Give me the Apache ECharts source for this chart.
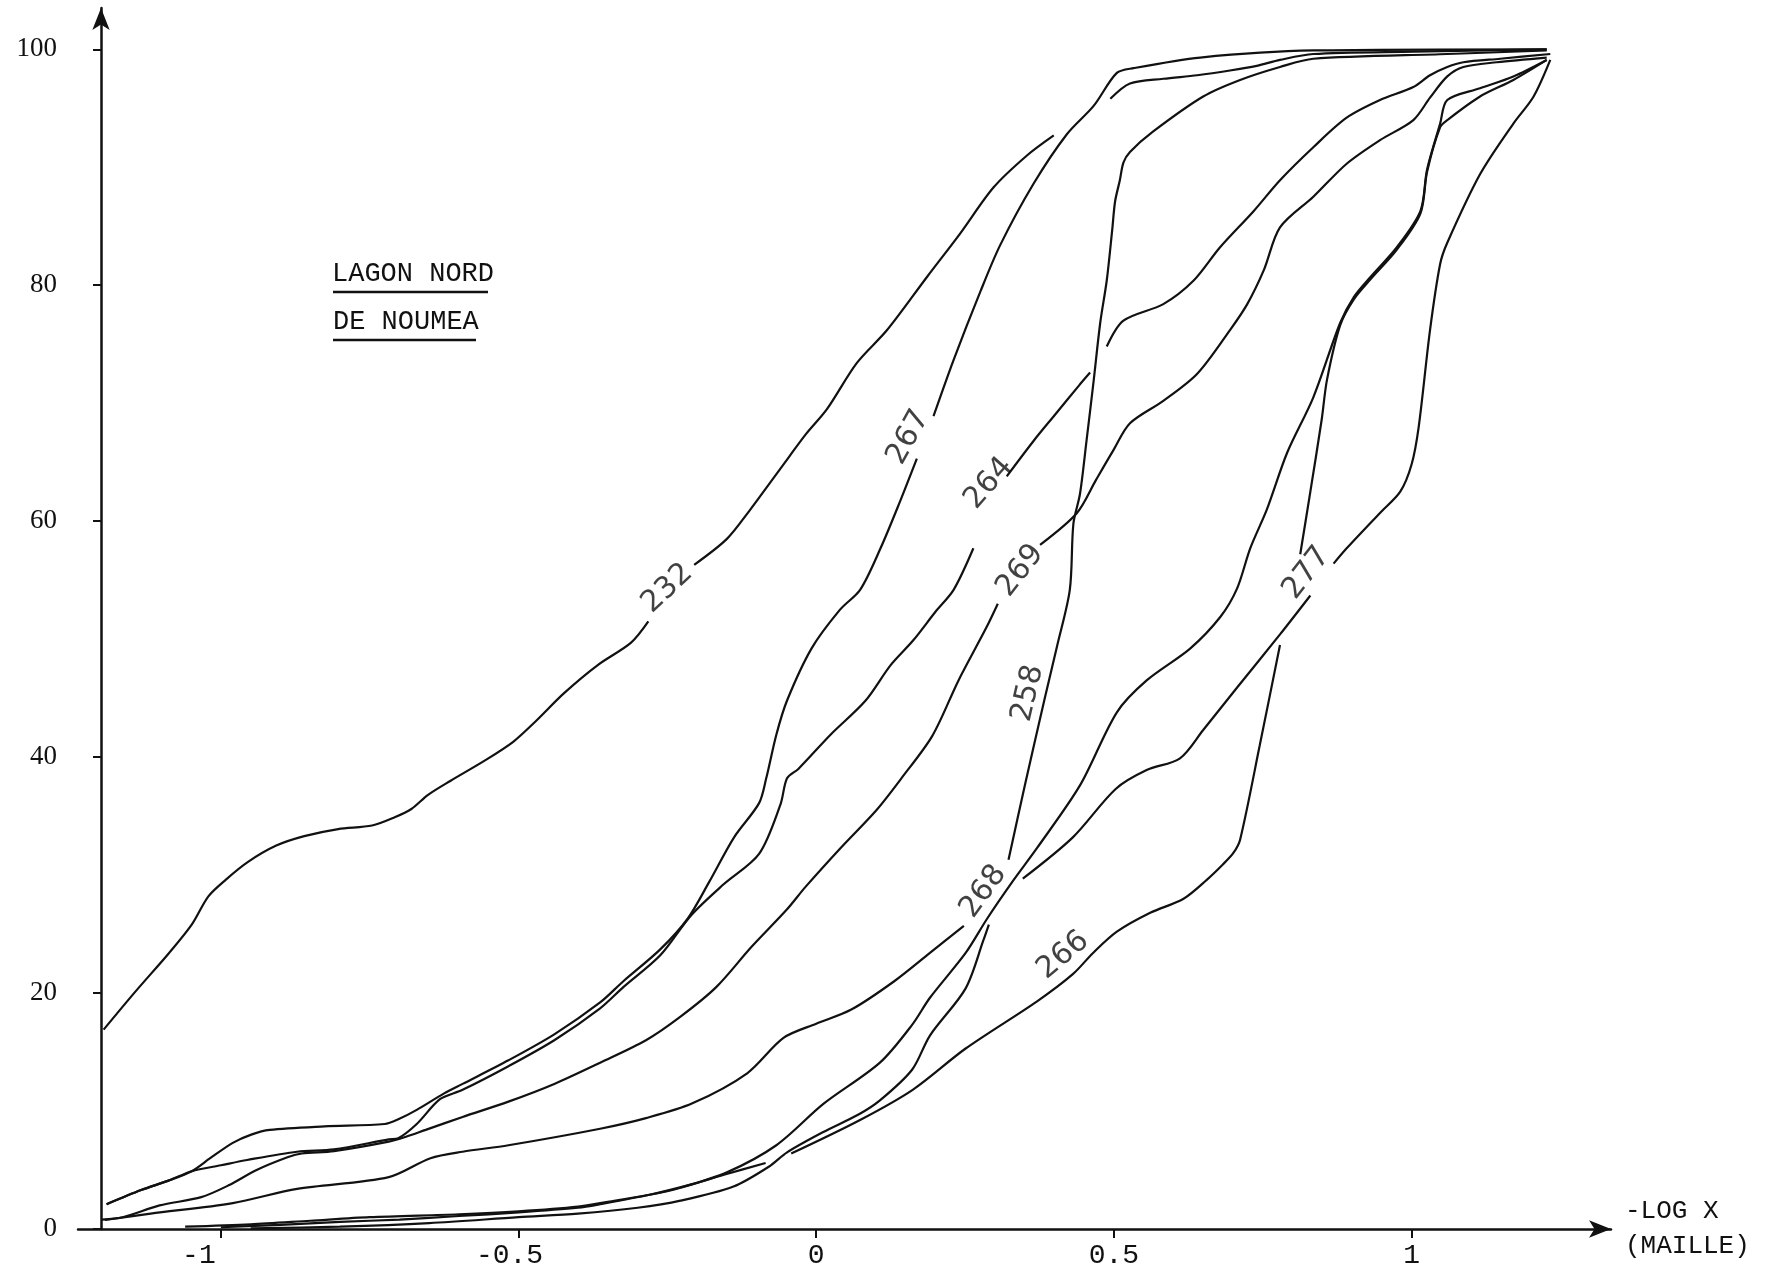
<!DOCTYPE html>
<html>
<head>
<meta charset="utf-8">
<script src="https://cdn.jsdelivr.net/npm/echarts@6/dist/echarts.min.js"></script>
<style>
html,body{margin:0;padding:0;background:#fff;}
#chart{width:1768px;height:1276px;}
</style>
</head>
<body>
<div id="chart"></div>
<script>
// ---- data (x = -log X, y = cumulative %) ; GAP = pen lift in the original drawing
const GAP = '-';
const xTickValues = [-1, -0.5, 0, 0.5, 1];
const xTickLabels = ['-1', '-0.5', '0', '0.5', '1'];
const yTickValues = [0, 20, 40, 60, 80, 100];
const yTickLabels = ['0', '20', '40', '60', '80', '100'];

const s232 = [[-1.197,16.9],[-1.144,20.1],[-1.087,23.4],[-1.049,25.8],[-1.021,28.2],[-0.992,29.6],[-0.955,31.1],[-0.907,32.5],[-0.86,33.3],[-0.803,33.9],[-0.746,34.2],[-0.708,34.9],[-0.68,35.6],[-0.652,36.8],[-0.614,38.0],[-0.557,39.7],[-0.509,41.3],[-0.472,43.0],[-0.424,45.4],[-0.367,47.8],[-0.311,49.7],[-0.282,51.5],GAP,[-0.205,56.3],[-0.15,58.5],[-0.112,60.9],[-0.074,63.5],[-0.045,65.5],[-0.017,67.4],[0.018,69.5],[0.068,73.4],[0.119,76.2],[0.186,80.7],[0.242,84.4],[0.298,88.3],[0.354,91.0],[0.399,92.7],GAP,[0.494,95.8],[0.527,97.1],[0.583,97.5],[0.64,97.8],[0.695,98.2],[0.74,98.6],[0.779,99.1],[0.835,99.6],[1.003,99.8],[1.227,100]];

const s267 = [[-1.192,2.1],[-1.134,3.3],[-1.088,4.1],[-1.049,4.9],[-1.018,6.0],[-0.98,7.3],[-0.949,8.0],[-0.918,8.4],[-0.826,8.7],[-0.725,8.9],[-0.702,9.3],[-0.671,10.1],[-0.625,11.5],[-0.594,12.3],[-0.517,14.3],[-0.44,16.5],[-0.363,19.2],[-0.324,21.0],[-0.262,23.7],[-0.216,26.3],[-0.18,29.4],[-0.138,33.2],[-0.096,36.1],[-0.084,38.2],[-0.067,41.9],[-0.049,44.8],[-0.008,49.2],[0.04,52.5],[0.074,54.2],[0.108,57.7],[0.141,61.7],[0.169,65.3],GAP,[0.197,68.9],[0.231,73.7],[0.276,79.5],[0.309,83.4],[0.365,88.6],[0.421,92.8],[0.466,95.2],[0.505,98.0],[0.533,98.4],[0.645,99.3],[0.835,99.9],[1.227,100]];

const s264 = [[-1.192,2.1],[-1.134,3.3],[-1.088,4.1],[-1.049,4.9],[-1.0,5.4],[-0.956,5.85],[-0.872,6.55],[-0.81,6.75],[-0.718,7.6],[-0.702,7.7],[-0.671,8.9],[-0.632,11.0],[-0.594,11.8],[-0.517,13.8],[-0.44,16.0],[-0.363,18.7],[-0.324,20.5],[-0.262,23.2],[-0.21,26.6],[-0.156,29.2],[-0.096,31.8],[-0.06,36.0],[-0.049,38.2],[-0.03,39.0],[0.024,41.9],[0.083,44.8],[0.125,47.8],[0.163,49.9],[0.2,52.3],[0.231,54.2],[0.264,57.7],GAP,[0.32,63.8],[0.365,66.8],[0.399,68.9],[0.443,71.6],[0.46,72.6],GAP,[0.488,74.8],[0.516,77.0],[0.583,78.4],[0.634,80.4],[0.678,83.2],[0.735,86.3],[0.779,88.9],[0.835,91.7],[0.891,94.2],[0.947,95.7],[1.003,96.8],[1.031,97.8],[1.06,98.5],[1.087,98.9],[1.149,99.2],[1.233,99.6]];

const s269 = [[-1.2,0.8],[-1.165,1.0],[-1.103,2.0],[-1.033,2.7],[-0.987,3.7],[-0.94,5.0],[-0.887,6.1],[-0.864,6.4],[-0.81,6.6],[-0.718,7.4],[-0.69,7.8],[-0.656,8.4],[-0.594,9.5],[-0.517,10.8],[-0.44,12.3],[-0.363,14.1],[-0.286,16.0],[-0.228,18.0],[-0.168,20.5],[-0.109,23.9],[-0.049,27.1],[-0.018,29.0],[0.041,32.3],[0.101,35.5],[0.143,38.2],[0.195,41.8],[0.239,46.5],[0.286,51.0],[0.305,53.0],GAP,[0.376,58.0],[0.438,60.7],[0.47,63.5],[0.499,66.0],[0.527,68.3],[0.583,70.2],[0.64,72.5],[0.695,76.2],[0.724,78.4],[0.752,81.3],[0.779,84.9],[0.835,87.5],[0.891,90.3],[0.947,92.3],[1.003,94.0],[1.031,95.9],[1.06,97.7],[1.087,98.5],[1.143,98.9],[1.227,99.3]];

const s258 = [[-0.95,0.05],[-0.8,0.2],[-0.65,0.5],[-0.5,1.0],[-0.4,1.3],[-0.3,1.8],[-0.228,2.4],[-0.139,3.6],[-0.079,5.3],[-0.049,6.5],[0.011,8.2],[0.071,9.7],[0.107,10.9],[0.161,13.5],[0.191,16.4],[0.251,20.4],[0.281,24.5],[0.29,25.8],GAP,[0.323,31.3],[0.35,37.5],[0.383,44.8],[0.405,49.5],[0.426,54.2],[0.432,59.8],[0.443,62.3],[0.454,66.8],[0.466,71.9],[0.477,76.8],[0.488,80.4],[0.497,84.6],[0.502,87.1],[0.51,88.9],[0.516,90.4],[0.527,91.3],[0.565,93.0],[0.65,96.0],[0.712,97.4],[0.779,98.5],[0.835,99.2],[1.06,99.6],[1.227,99.9]];

const s268 = [[-1.195,0.76],[-1.118,1.3],[-0.98,2.2],[-0.872,3.4],[-0.718,4.4],[-0.648,6.0],[-0.594,6.55],[-0.517,7.1],[-0.363,8.5],[-0.286,9.4],[-0.208,10.65],[-0.116,13.2],[-0.055,16.2],[0.0,17.4],[0.059,18.6],[0.131,21.0],[0.191,23.4],[0.248,25.7],GAP,[0.347,29.7],[0.431,33.2],[0.503,37.3],[0.555,38.9],[0.611,39.9],[0.65,42.3],[0.707,45.9],[0.779,50.4],[0.83,53.7],GAP,[0.869,56.4],[0.891,57.7],[0.947,60.7],[0.981,62.5],[1.0,64.8],[1.012,68.0],[1.031,76.2],[1.048,81.8],[1.06,83.6],[1.115,89.4],[1.171,93.7],[1.205,96.0],[1.233,99.1]];

const s266 = [[-1.0,0.15],[-0.9,0.35],[-0.8,0.6],[-0.7,0.8],[-0.6,1.1],[-0.5,1.4],[-0.4,1.8],[-0.363,2.1],[-0.28,2.9],[-0.208,3.8],[-0.155,4.6],[-0.085,5.6],GAP,[-0.042,6.4],[0.072,9.2],[0.162,11.8],[0.251,15.3],[0.371,19.3],[0.431,21.6],[0.465,23.4],[0.505,25.2],[0.561,26.8],[0.617,28.0],[0.656,29.6],[0.683,30.9],[0.701,31.9],[0.712,33.0],[0.745,41.0],[0.779,49.5],GAP,[0.813,57.2],[0.83,62.5],[0.849,68.6],[0.858,72.0],[0.88,76.6],[0.903,78.8],[0.931,80.5],[0.975,83.0],[1.015,86.1],[1.026,89.6],[1.048,93.4],[1.06,94.0],[1.115,96.0],[1.171,97.4],[1.227,99.1]];

const s277 = [[-1.06,0.2],[-0.95,0.4],[-0.85,0.7],[-0.75,1.0],[-0.6,1.25],[-0.5,1.5],[-0.4,1.9],[-0.35,2.3],[-0.28,2.9],[-0.228,3.5],[-0.15,4.8],[-0.067,7.1],[0.012,10.6],[0.107,14.1],[0.161,17.3],[0.191,19.6],[0.251,23.4],[0.287,26.3],[0.329,29.4],[0.371,32.3],[0.443,37.6],[0.505,43.8],[0.555,46.5],[0.628,49.2],[0.679,51.9],[0.707,54.3],[0.729,57.7],[0.757,61.0],[0.791,65.8],[0.835,70.5],[0.88,76.8],[0.903,79.0],[0.931,80.7],[0.975,83.2],[1.015,86.3],[1.026,89.8],[1.048,93.7],[1.06,95.7],[1.115,96.7],[1.171,97.7],[1.227,99.1]];

const curveNames = ['232', '267', '264', '269', '258', '268', '266', '277'];
const curveData = [s232, s267, s264, s269, s258, s268, s266, s277];
// where each sample number is written (data coords) and its writing angle
const labelAnchors = [[-0.25,54.3],[0.155,67.1],[0.29,63.2],[0.343,55.8],[0.356,45.4],[0.281,28.6],[0.415,23.2],[0.824,55.6]];
const labelAngles = [43, 61, 49, 52, 77, 54, 40, 52];

const legendTitle = ['LAGON NORD', 'DE NOUMEA'];
const xAxisTitle = '-LOG X\n(MAILLE)';

// ---- chart
const ink = '#111111';
const chart = echarts.init(document.getElementById('chart'), null, {renderer: 'canvas'});

const lineSeries = curveNames.map((n, i) => ({
  type: 'line',
  name: n,
  data: curveData[i],
  symbol: 'none',
  showSymbol: false,
  smooth: 0.3,
  connectNulls: false,
  lineStyle: {color: ink, width: 2.2},
  silent: true,
  z: 2
}));

const labelSeries = {
  type: 'scatter',
  data: curveNames.map((n, i) => ({name: n, value: labelAnchors[i], label: {rotate: labelAngles[i]}})),
  symbolSize: 1,
  itemStyle: {color: 'rgba(0,0,0,0)'},
  label: {show: true, formatter: '{b}', position: 'inside', fontFamily: 'DejaVu Sans', fontSize: 30, color: ink},
  silent: true,
  z: 5
};

// typed tick labels: the minus sign hangs to the left of the tick
function xLabel(v) {
  const t = xTickLabels[xTickValues.indexOf(v)];
  if (v === -1) return '{m1|' + t + '}';
  if (v === -0.5) return '{m2|' + t + '}';
  return t;
}

chart.setOption({
  animation: false,
  backgroundColor: '#ffffff',
  grid: {left: 78, right: 157, top: 8, bottom: 47, containLabel: false, outerBoundsMode: 'none'},
  xAxis: {
    type: 'value', min: -1.24, max: 1.335,
    axisLine: {show: true, onZero: false, symbol: ['none', 'arrow'], symbolSize: [13, 22], lineStyle: {color: ink, width: 2.5}},
    axisTick: {show: true, customValues: xTickValues, length: 9, lineStyle: {color: ink, width: 2}},
    axisLabel: {show: true, customValues: xTickValues, formatter: xLabel, margin: 13,
      fontFamily: 'Liberation Mono', fontSize: 28, color: ink,
      rich: {
        m1: {fontFamily: 'Liberation Mono', fontSize: 28, color: ink, padding: [0, 44, 0, 0]},
        m2: {fontFamily: 'Liberation Mono', fontSize: 28, color: ink, padding: [0, 18, 0, 0]}
      }},
    splitLine: {show: false},
    name: xAxisTitle, nameLocation: 'end', nameGap: 14,
    nameTextStyle: {fontFamily: 'Liberation Mono', fontSize: 26, color: ink, align: 'left', verticalAlign: 'middle', lineHeight: 35}
  },
  yAxis: {
    type: 'value', min: 0, max: 103.5, offset: -23,
    axisLine: {show: true, onZero: false, symbol: ['none', 'arrow'], symbolSize: [13, 22], lineStyle: {color: ink, width: 2.5}},
    axisTick: {show: true, customValues: yTickValues, length: 8, lineStyle: {color: ink, width: 2}},
    axisLabel: {show: true, customValues: yTickValues, formatter: v => yTickLabels[yTickValues.indexOf(v)], margin: 44,
      fontFamily: 'Liberation Serif', fontSize: 27, color: ink, padding: [0, 0, 12, 0]},
    splitLine: {show: false}
  },
  graphic: [
    {type: 'text', x: 332, y: 274, style: {text: legendTitle[0], font: '27px "Liberation Mono"', fill: ink, align: 'left', verticalAlign: 'middle'}},
    {type: 'line', shape: {x1: 333, y1: 292, x2: 488, y2: 292}, style: {stroke: ink, lineWidth: 2.5}},
    {type: 'text', x: 333, y: 322, style: {text: legendTitle[1], font: '27px "Liberation Mono"', fill: ink, align: 'left', verticalAlign: 'middle'}},
    {type: 'line', shape: {x1: 333, y1: 340, x2: 476, y2: 340}, style: {stroke: ink, lineWidth: 2.5}}
  ],
  series: lineSeries.concat([labelSeries])
});
</script>
</body>
</html>
